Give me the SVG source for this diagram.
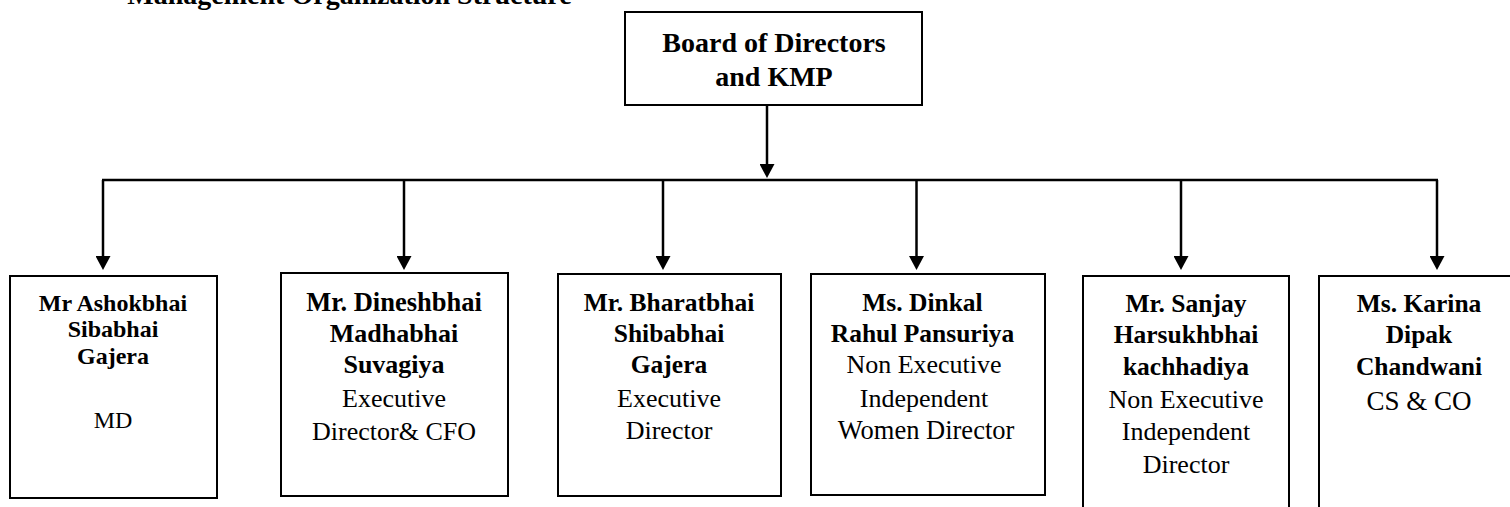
<svg xmlns="http://www.w3.org/2000/svg" width="1510" height="507" viewBox="0 0 1510 507">
<style>
text { fill: #000; text-anchor: middle; }
.b { font-weight: bold; font-size: 25.5px; }
.r { font-size: 26px; }
.box { fill: #fff; stroke: #000; stroke-width: 2; }
.conn { fill: none; stroke: #000; stroke-width: 2.5; }
</style>
<defs>
<marker id="arr" viewBox="0 0 14 15" refX="0" refY="7.5" markerWidth="14" markerHeight="15" markerUnits="userSpaceOnUse" orient="auto">
<path d="M0,0 L14,7.5 L0,15 z" fill="#000"/>
</marker>
</defs>
<rect width="1510" height="507" fill="#fff"/>
<g font-family="Liberation Serif, Times New Roman, DejaVu Serif, serif">
<text id="title" x="349.5" y="4" font-weight="bold" font-size="28">Management Organization Structure</text>
<g id="connectors">
<path class="conn" d="M767,105 V164" marker-end="url(#arr)"/>
<path class="conn" d="M102,180 H1438"/>
<path class="conn" d="M103,180 V256" marker-end="url(#arr)"/>
<path class="conn" d="M404,180 V256" marker-end="url(#arr)"/>
<path class="conn" d="M663,180 V256" marker-end="url(#arr)"/>
<path class="conn" d="M916.5,180 V256" marker-end="url(#arr)"/>
<path class="conn" d="M1181,180 V256" marker-end="url(#arr)"/>
<path class="conn" d="M1437,180 V256" marker-end="url(#arr)"/>
</g>
<g id="board">
<rect class="box" x="625" y="12" width="297" height="93"/>
<text x="774" y="52" font-weight="bold" font-size="28">Board of Directors</text>
<text x="774" y="86" font-weight="bold" font-size="28">and KMP</text>
</g>
<g id="n1">
<rect class="box" x="10" y="276" width="207" height="222"/>
<text x="113" y="311" font-weight="bold" font-size="24">Mr Ashokbhai</text>
<text x="113" y="337" font-weight="bold" font-size="24">Sibabhai</text>
<text x="113" y="364" font-weight="bold" font-size="24">Gajera</text>
<text x="113" y="428" font-size="24">MD</text>
</g>
<g id="n2">
<rect class="box" x="281" y="273" width="227" height="223"/>
<text class="b" x="394" y="311" font-size="26.5" style="font-size:26.5px">Mr. Dineshbhai</text>
<text class="b" x="394" y="342" style="font-size:26px">Madhabhai</text>
<text class="b" x="394" y="373" style="font-size:26px">Suvagiya</text>
<text class="r" x="394" y="407">Executive</text>
<text class="r" x="394" y="440">Director&amp; CFO</text>
</g>
<g id="n3">
<rect class="box" x="558" y="274" width="223" height="222"/>
<text class="b" x="669" y="311">Mr. Bharatbhai</text>
<text class="b" x="669" y="342">Shibabhai</text>
<text class="b" x="669" y="373">Gajera</text>
<text class="r" x="669" y="407">Executive</text>
<text class="r" x="669" y="439">Director</text>
</g>
<g id="n4">
<rect class="box" x="811" y="274" width="234" height="221"/>
<text class="b" x="922.5" y="311">Ms. Dinkal</text>
<text class="b" x="922.5" y="342">Rahul Pansuriya</text>
<text class="r" x="924" y="373">Non Executive</text>
<text class="r" x="924" y="407">Independent</text>
<text class="r" x="926" y="439" style="font-size:26.5px">Women Director</text>
</g>
<g id="n5">
<rect class="box" x="1083" y="276" width="206" height="240"/>
<text class="b" x="1186" y="312">Mr. Sanjay</text>
<text class="b" x="1186" y="343">Harsukhbhai</text>
<text class="b" x="1186" y="375">kachhadiya</text>
<text class="r" x="1186" y="408">Non Executive</text>
<text class="r" x="1186" y="440">Independent</text>
<text class="r" x="1186" y="473">Director</text>
</g>
<g id="n6">
<rect class="box" x="1319" y="276" width="210" height="240"/>
<text class="b" x="1419" y="312">Ms. Karina</text>
<text class="b" x="1419" y="343">Dipak</text>
<text class="b" x="1419" y="375">Chandwani</text>
<text x="1419" y="410" font-size="27">CS &amp; CO</text>
</g>
</g>
</svg>
